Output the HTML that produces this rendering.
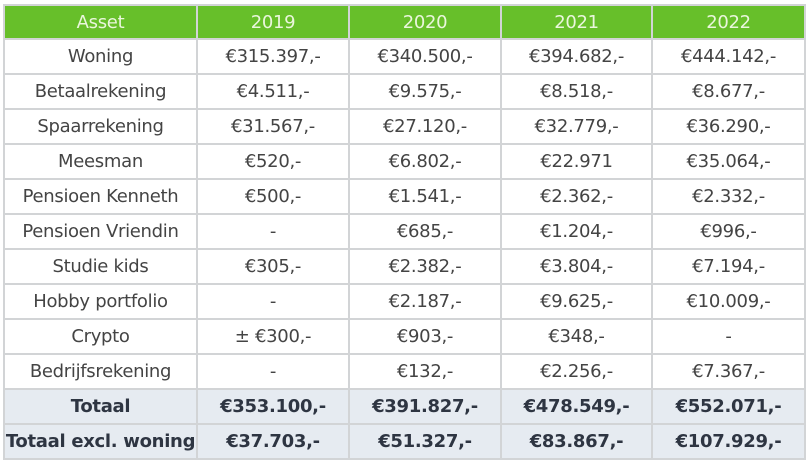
<!DOCTYPE html>
<html><head><meta charset="utf-8"><style>
html,body{margin:0;padding:0;background:#fff;width:807px;height:463px;overflow:hidden}
table{position:absolute;left:3px;top:4px;border-collapse:collapse;table-layout:fixed;width:801px;font-family:"DejaVu Sans","Liberation Sans",sans-serif;font-size:18px;color:#444}
td,th{border:2px solid #d2d4d6;text-align:center;padding:0;height:33px;box-sizing:border-box;white-space:nowrap;overflow:hidden;letter-spacing:-0.3px}
tr{height:35px}
tr:first-child{height:34px}
th{background:#67bf2a;color:#eaf6dc;font-weight:normal;height:34px;border-color:#d2d4d6}
td{height:35px}
tr.tot td{background:#e6ebf1;font-weight:bold;color:#2e3542}
</style></head><body>
<table>
<colgroup><col style="width:193px"><col style="width:152px"><col style="width:152px"><col style="width:151px"><col style="width:153px"></colgroup>
<tr><th>Asset</th><th>2019</th><th>2020</th><th>2021</th><th>2022</th></tr>
<tr><td>Woning</td><td>€315.397,-</td><td>€340.500,-</td><td>€394.682,-</td><td>€444.142,-</td></tr>
<tr><td>Betaalrekening</td><td>€4.511,-</td><td>€9.575,-</td><td>€8.518,-</td><td>€8.677,-</td></tr>
<tr><td>Spaarrekening</td><td>€31.567,-</td><td>€27.120,-</td><td>€32.779,-</td><td>€36.290,-</td></tr>
<tr><td>Meesman</td><td>€520,-</td><td>€6.802,-</td><td>€22.971</td><td>€35.064,-</td></tr>
<tr><td>Pensioen Kenneth</td><td>€500,-</td><td>€1.541,-</td><td>€2.362,-</td><td>€2.332,-</td></tr>
<tr><td>Pensioen Vriendin</td><td>-</td><td>€685,-</td><td>€1.204,-</td><td>€996,-</td></tr>
<tr><td>Studie kids</td><td>€305,-</td><td>€2.382,-</td><td>€3.804,-</td><td>€7.194,-</td></tr>
<tr><td>Hobby portfolio</td><td>-</td><td>€2.187,-</td><td>€9.625,-</td><td>€10.009,-</td></tr>
<tr><td>Crypto</td><td>± €300,-</td><td>€903,-</td><td>€348,-</td><td>-</td></tr>
<tr><td>Bedrijfsrekening</td><td>-</td><td>€132,-</td><td>€2.256,-</td><td>€7.367,-</td></tr>
<tr class="tot"><td>Totaal</td><td>€353.100,-</td><td>€391.827,-</td><td>€478.549,-</td><td>€552.071,-</td></tr>
<tr class="tot"><td>Totaal excl. woning</td><td>€37.703,-</td><td>€51.327,-</td><td>€83.867,-</td><td>€107.929,-</td></tr>
</table>
</body></html>
